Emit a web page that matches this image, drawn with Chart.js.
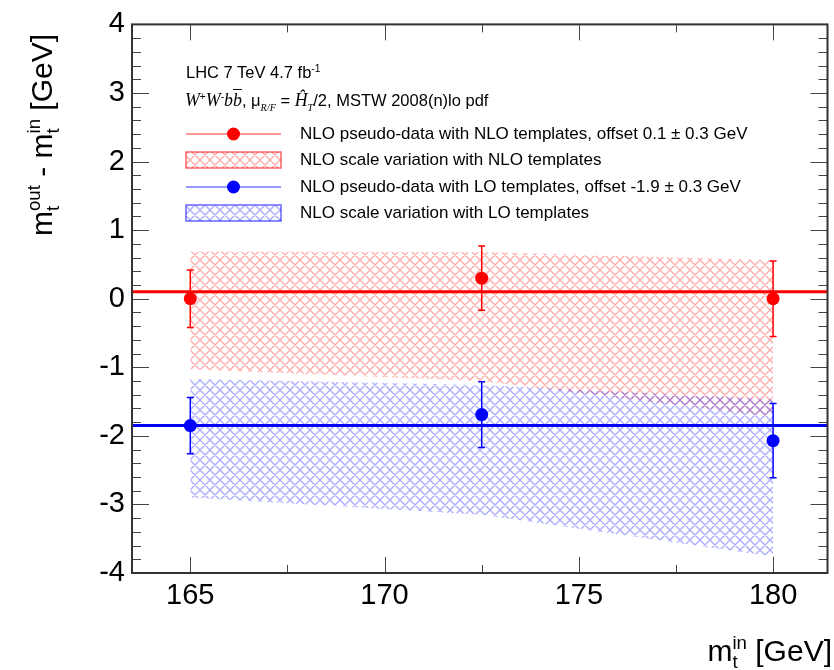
<!DOCTYPE html>
<html>
<head>
<meta charset="utf-8">
<script src="https://cdn.jsdelivr.net/npm/chart.js@4.4.0/dist/chart.umd.min.js"></script>
<style>
  body { margin: 0; background: #fff; }
  #wrap { position: relative; width: 834px; height: 670px; font-family: "Liberation Sans", Arial, sans-serif; color: #000; }
  #wrap canvas { position: absolute; left: 0; top: 0; }
  .t { position: absolute; white-space: nowrap; font-size: 16.5px; line-height: 20px; }
  .lg { font-size: 17px; }
  .ax { position: absolute; white-space: nowrap; font-size: 30px; line-height: 36px; height: 36px; }
  .ss { display: inline-flex; flex-direction: column; font-size: 0.62em; line-height: 1; position: relative; top: -0.62em; }
  .tm { font-family: "Liberation Serif", "Times New Roman", serif; font-style: italic; font-size: 1.08em; }
  sup.s { font-size: 0.62em; vertical-align: 0.55em; line-height: 0; }
  sub.s { font-size: 0.62em; vertical-align: -0.45em; line-height: 0; }
</style>
</head>
<body>
<div id="wrap">
  <canvas id="chart" width="834" height="670"></canvas>

  <div class="ax" id="ytitle" style="left:0; top:0; transform-origin: 0 0; transform: translate(24px, 236px) rotate(-90deg);">m<span class="ss"><span>out</span><span>t</span></span> - m<span class="ss"><span>in</span><span>t</span></span> [GeV]</div>
  <div class="ax" style="right:2px; top:633px;">m<span class="ss"><span>in</span><span>t</span></span> [GeV]</div>

  <div class="t" style="left:186px; top:62px;">LHC 7 TeV 4.7 fb<sup class="s">-1</sup></div>
  <div class="t" style="left:185px; top:90px;"><span class="tm">W</span><sup class="s">+</sup><span class="tm">W</span><sup class="s">-</sup><span class="tm">b<span style="text-decoration:overline">b</span></span>, &mu;<sub class="s tm">R/F</sub> = <span class="tm">&#292;</span><sub class="s tm">T</sub>/2, MSTW 2008(n)lo pdf</div>

  <div class="t lg" style="left:300px; top:124px;">NLO pseudo-data with NLO templates, offset 0.1 &plusmn; 0.3 GeV</div>
  <div class="t lg" style="left:300px; top:150px;">NLO scale variation with NLO templates</div>
  <div class="t lg" style="left:300px; top:177px;">NLO pseudo-data with LO templates, offset -1.9 &plusmn; 0.3 GeV</div>
  <div class="t lg" style="left:300px; top:203px;">NLO scale variation with LO templates</div>
</div>

<script>
// input top mass points
const massIn = [165, 172.5, 180];

// NLO pseudo-data fitted with NLO templates
const redPoints = [0.0, 0.30, 0.0];
const redErr = [0.42, 0.47, 0.55];
const redOffset = 0.1;

// NLO pseudo-data fitted with LO templates
const bluePoints = [-1.85, -1.69, -2.07];
const blueErr = [0.41, 0.48, 0.54];
const blueOffset = -1.85;

// scale variation bands (upper / lower edge)
const redBandHigh = [0.69, 0.68, 0.56];
const redBandLow = [-1.03, -1.20, -1.72];
const blueBandHigh = [-1.17, -1.26, -1.47];
const blueBandLow = [-2.90, -3.15, -3.76];

const xTicks = [165, 170, 175, 180];
const yTicks = [-4, -3, -2, -1, 0, 1, 2, 3, 4];
const xMin = 163.5, xMax = 181.4;
const yMin = -4, yMax = 4;

const RED = "#ff0000";
const BLUE = "#0000ff";

function hatch(color) {
  const s = 10;
  const c = document.createElement("canvas");
  c.width = c.height = s;
  const g = c.getContext("2d");
  g.strokeStyle = color;
  g.lineWidth = 1.4;
  g.beginPath();
  for (let k = -1; k <= 1; k++) {
    g.moveTo(k * s - 2, -2); g.lineTo(k * s + s + 2, s + 2);
  }
  for (let k = 0; k <= 2; k++) {
    g.moveTo(k * s + 2, -2); g.lineTo(k * s - s - 2, s + 2);
  }
  g.stroke();
  return g.createPattern(c, "repeat");
}

const redHatch = hatch("rgba(255,60,60,0.42)");
const blueHatch = hatch("rgba(60,60,255,0.42)");

const pts = ys => massIn.map((x, i) => ({ x, y: ys[i] }));
const flat = y => [{ x: xMin, y }, { x: xMax, y }];

// error bars on the pseudo-data points
const errorBars = {
  id: "errorBars",
  afterDatasetsDraw(chart) {
    const { ctx, scales: { x, y } } = chart;
    const sets = [[redPoints, redErr, RED], [bluePoints, blueErr, BLUE]];
    ctx.save();
    ctx.lineWidth = 1.5;
    for (const [vals, errs, col] of sets) {
      ctx.strokeStyle = col;
      vals.forEach((v, i) => {
        const px = x.getPixelForValue(massIn[i]);
        const top = y.getPixelForValue(v + errs[i]);
        const bot = y.getPixelForValue(v - errs[i]);
        ctx.beginPath();
        ctx.moveTo(px, top); ctx.lineTo(px, bot);
        ctx.moveTo(px - 3.5, top); ctx.lineTo(px + 3.5, top);
        ctx.moveTo(px - 3.5, bot); ctx.lineTo(px + 3.5, bot);
        ctx.stroke();
      });
    }
    ctx.restore();
  }
};

// ROOT style frame with inward ticks on all four sides
const frame = {
  id: "frame",
  afterDraw(chart) {
    const { ctx, chartArea: a, scales: { x, y } } = chart;
    ctx.save();
    ctx.strokeStyle = "#444";
    ctx.lineWidth = 1;
    ctx.beginPath();
    for (let v = yMin; v <= yMax + 1e-9; v += 0.2) {
      const py = Math.round(y.getPixelForValue(v)) + 0.5;
      const major = Math.abs(v - Math.round(v)) < 1e-6;
      const len = major ? 17 : 9;
      ctx.moveTo(a.left, py); ctx.lineTo(a.left + len, py);
      ctx.moveTo(a.right, py); ctx.lineTo(a.right - len, py);
    }
    for (let v = 162.5; v <= xMax; v += 2.5) {
      if (v < xMin) continue;
      const px = Math.round(x.getPixelForValue(v)) + 0.5;
      const major = v % 5 === 0;
      const len = major ? 16 : 8;
      ctx.moveTo(px, a.bottom); ctx.lineTo(px, a.bottom - len);
      ctx.moveTo(px, a.top); ctx.lineTo(px, a.top + len);
    }
    ctx.stroke();
    ctx.strokeStyle = "#333";
    ctx.lineWidth = 2;
    ctx.strokeRect(a.left, a.top, a.right - a.left, a.bottom - a.top);

    // legend symbols
    const lx0 = 186, lx1 = 281;
    const rows = [134, 160, 187, 213];
    [[rows[0], RED], [rows[2], BLUE]].forEach(([ry, col]) => {
      ctx.strokeStyle = col;
      ctx.globalAlpha = 0.55;
      ctx.lineWidth = 1.5;
      ctx.beginPath(); ctx.moveTo(lx0, ry); ctx.lineTo(lx1, ry); ctx.stroke();
      ctx.globalAlpha = 1;
      ctx.fillStyle = col;
      ctx.beginPath(); ctx.arc((lx0 + lx1) / 2, ry, 6.5, 0, Math.PI * 2); ctx.fill();
    });
    [[rows[1], redHatch, RED], [rows[3], blueHatch, BLUE]].forEach(([ry, pat, col]) => {
      ctx.fillStyle = pat;
      ctx.fillRect(lx0, ry - 8, lx1 - lx0, 16);
      ctx.strokeStyle = col;
      ctx.globalAlpha = 0.6;
      ctx.lineWidth = 1.5;
      ctx.strokeRect(lx0, ry - 8, lx1 - lx0, 16);
      ctx.globalAlpha = 1;
    });
    ctx.restore();
  }
};

new Chart(document.getElementById("chart"), {
  type: "scatter",
  data: {
    datasets: [
      { data: pts(redBandHigh), showLine: true, fill: "+1", backgroundColor: redHatch, borderWidth: 0, pointRadius: 0, order: 5 },
      { data: pts(redBandLow), showLine: true, fill: false, borderWidth: 0, pointRadius: 0, order: 5 },
      { data: pts(blueBandHigh), showLine: true, fill: "+1", backgroundColor: blueHatch, borderWidth: 0, pointRadius: 0, order: 4 },
      { data: pts(blueBandLow), showLine: true, fill: false, borderWidth: 0, pointRadius: 0, order: 4 },
      { data: flat(redOffset), showLine: true, borderColor: RED, borderWidth: 3, pointRadius: 0, order: 3 },
      { data: flat(blueOffset), showLine: true, borderColor: BLUE, borderWidth: 3, pointRadius: 0, order: 3 },
      { data: pts(redPoints), backgroundColor: RED, borderWidth: 0, pointRadius: 6.5, order: 1 },
      { data: pts(bluePoints), backgroundColor: BLUE, borderWidth: 0, pointRadius: 6.5, order: 1 }
    ]
  },
  options: {
    responsive: false,
    animation: false,
    layout: { padding: { top: 19, right: 5, left: 0, bottom: 0 } },
    plugins: { legend: { display: false }, tooltip: { enabled: false } },
    scales: {
      x: {
        type: "linear", min: xMin, max: xMax,
        grid: { display: false, drawTicks: false },
        border: { display: false },
        afterBuildTicks: s => { s.ticks = xTicks.map(v => ({ value: v })); },
        afterFit: s => { s.height = 97; },
        ticks: { color: "#000", padding: 6, font: { family: "Liberation Sans", size: 29 } }
      },
      y: {
        min: yMin, max: yMax,
        grid: { display: false, drawTicks: false },
        border: { display: false },
        afterBuildTicks: s => { s.ticks = yTicks.map(v => ({ value: v })); },
        afterFit: s => { s.width = 132; },
        ticks: { color: "#000", padding: 7, font: { family: "Liberation Sans", size: 29 } }
      }
    }
  },
  plugins: [errorBars, frame]
});
</script>
</body>
</html>
